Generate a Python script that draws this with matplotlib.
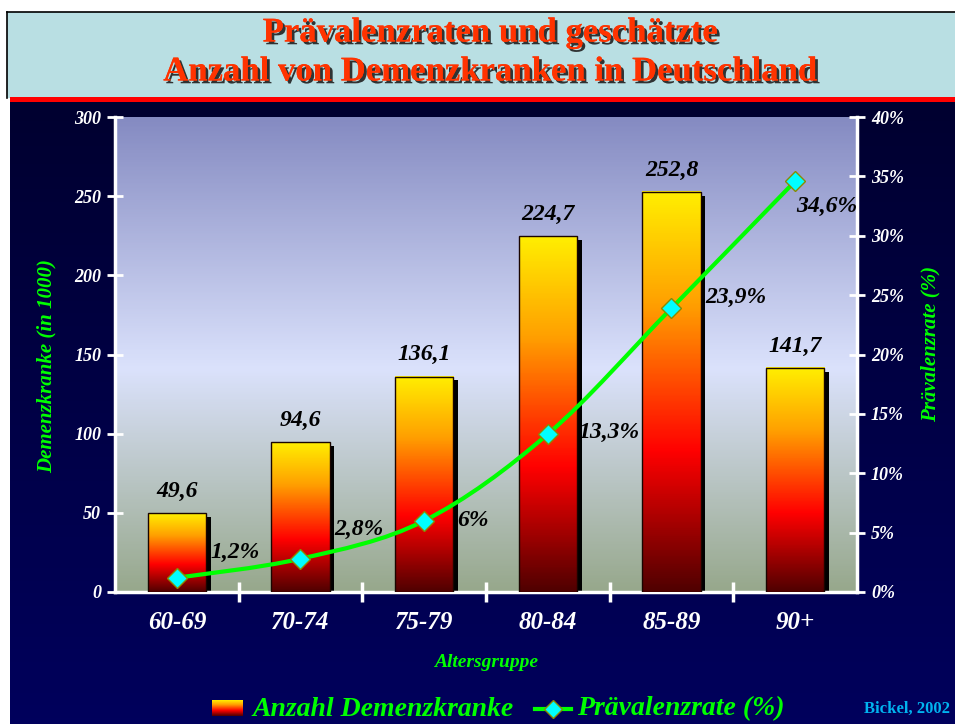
import numpy as np
import matplotlib
matplotlib.use('Agg')
import matplotlib.pyplot as plt
from matplotlib.colors import LinearSegmentedColormap
from matplotlib.path import Path
from matplotlib.patches import PathPatch, Rectangle
import matplotlib.patheffects as pe

# data
age_groups = ['60-69', '70-74', '75-79', '80-84', '85-89', '90+']
patients = [49.6, 94.6, 136.1, 224.7, 252.8, 141.7]      # in 1000
prevalence = [1.2, 2.8, 6.0, 13.3, 23.9, 34.6]          # percent

# offsets (points) of the percent labels relative to their markers
pct_offsets = [(24, 18), (24, 21), (24, 0), (22, 1), (24, 8), (1, -18)]

SERIF = 'Liberation Serif'
GREEN = '#00ff00'

bar_cmap = LinearSegmentedColormap.from_list(
    'bar', [(0, '#500000'), (0.35, '#ff0000'), (0.72, '#ffa000'), (1, '#ffee00')])
bg_cmap = LinearSegmentedColormap.from_list(
    'bg', [(0, '#97a88c'), (0.47, '#dbe2fc'), (1, '#858bc2')])
navy_cmap = LinearSegmentedColormap.from_list('navy', ['#000030', '#00005c'])


def smooth_path(xs, ys):
    # Catmull-Rom style bezier through the points (like a smoothed office line)
    pts = np.column_stack([xs, ys])
    ext = np.vstack([pts[0], pts, pts[-1]])
    verts = [pts[0]]
    codes = [Path.MOVETO]
    for i in range(len(pts) - 1):
        p0, p1, p2, p3 = ext[i], ext[i + 1], ext[i + 2], ext[i + 3]
        verts += [p1 + (p2 - p0) / 6, p2 - (p3 - p1) / 6, p2]
        codes += [Path.CURVE4] * 3
    return Path(verts, codes)


fig = plt.figure(figsize=(9.55, 7.24), dpi=100, facecolor='white')

# page background in pixel coordinates
bg = fig.add_axes([0, 0, 1, 1], zorder=-5)
bg.axis('off')
bg.imshow(np.linspace(0, 1, 100).reshape(-1, 1), cmap=navy_cmap, aspect='auto',
          extent=(10, 955, 724, 102))
bg.add_patch(Rectangle((7, 12), 950, 86, facecolor='#b9dfe3', edgecolor='none'))
bg.plot([7, 955], [12, 12], color='black', lw=1.2)
bg.plot([7, 7], [12, 98], color='black', lw=1.2)
bg.add_patch(Rectangle((10, 97), 945, 5, facecolor='#ff0000', edgecolor='none'))
bg.set_xlim(0, 955)
bg.set_ylim(724, 0)

shadow = [pe.withSimplePatchShadow(offset=(2, -2), shadow_rgbFace='#202020', alpha=0.9), pe.Normal()]
for y, line in [(33, 'Prävalenzraten und geschätzte'), (72, 'Anzahl von Demenzkranken in Deutschland')]:
    bg.text(490, y, line, ha='center', va='center', fontsize=25, fontweight='bold',
            family=SERIF, color='#ff3300', path_effects=shadow)

# main axes
ax = fig.add_axes([115 / 955, 132 / 724, 742 / 955, 475 / 724])
ax2 = ax.twinx()
x = np.arange(len(age_groups))

ax.imshow(np.linspace(0, 1, 200).reshape(-1, 1), cmap=bg_cmap, origin='lower',
          aspect='auto', extent=(-0.5, len(x) - 0.5, 0, 300), zorder=0)

w = 0.47
ax.bar(x + 0.038, np.array(patients) - 2.5, width=w, color='black', zorder=2)
bars = ax.bar(x, patients, width=w, facecolor='none', edgecolor='#1a0500', lw=1, zorder=4)
for b in bars:
    ax.imshow(np.linspace(0, 1, 200).reshape(-1, 1), cmap=bar_cmap, origin='lower',
              aspect='auto', zorder=3,
              extent=(b.get_x(), b.get_x() + b.get_width(), 0, b.get_height()))
ax.bar_label(bars, labels=[f'{v:g}'.replace('.', ',') for v in patients], padding=8,
             fontsize=17, fontweight='bold', fontstyle='italic', family=SERIF, color='black')

ax.set_xlim(-0.5, len(x) - 0.5)
ax.set_ylim(0, 300)
ax2.set_ylim(0, 40)

# prevalence line
ax2.add_patch(PathPatch(smooth_path(x, prevalence), fill=False, edgecolor=GREEN, lw=3, zorder=5))
ax2.plot(x, prevalence, ls='none', marker='D', ms=10, mfc='#00ffff', mec='#8a8a00', mew=1, zorder=6)
for xi, v, off in zip(x, prevalence, pct_offsets):
    ax2.annotate(f'{v:g}'.replace('.', ',') + '%', (xi, v), xytext=off, textcoords='offset points',
                 ha='left', va='center', fontsize=17, fontweight='bold', fontstyle='italic',
                 family=SERIF, color='black', zorder=7)

# axes styling
for a in (ax, ax2):
    for s in a.spines.values():
        s.set_visible(False)
ax.spines['left'].set_visible(True)
ax.spines['bottom'].set_visible(True)
ax2.spines['right'].set_visible(True)
for s in (ax.spines['left'], ax.spines['bottom'], ax2.spines['right']):
    s.set_color('white')
    s.set_linewidth(2.5)

tick_font = dict(family=SERIF, fontweight='bold', fontstyle='italic')
ax.set_yticks(range(0, 301, 50))
ax.set_yticklabels([str(v) for v in range(0, 301, 50)], color='white', fontsize=13, **tick_font)
ax.tick_params(axis='y', direction='inout', length=12, width=2, color='white', pad=4)
ax2.set_yticks(range(0, 41, 5))
ax2.set_yticklabels([f'{v}%' for v in range(0, 41, 5)], color='white', fontsize=13, **tick_font)
ax2.tick_params(axis='y', direction='inout', length=12, width=2, color='white', pad=4)

ax.set_xticks(x)
ax.set_xticklabels(age_groups, color='white', fontsize=18, **tick_font)
ax.set_xticks(x[:-1] + 0.5, minor=True)
ax.tick_params(axis='x', which='major', length=0, pad=14)
ax.tick_params(axis='x', which='minor', direction='inout', length=15, width=2.5, color='white')

ax.set_ylabel('Demenzkranke (in 1000)', color=GREEN, fontsize=15, **tick_font)
ax2.set_ylabel('Prävalenzrate (%)', color=GREEN, fontsize=15, **tick_font)
ax.yaxis.set_label_coords(-0.078, 0.475)
ax2.yaxis.set_label_coords(1.086, 0.522)
ax.set_xlabel('Altersgruppe', color=GREEN, fontsize=14, labelpad=14, **tick_font)

# legend at the bottom
sw = fig.add_axes([212 / 955, 8 / 724, 31 / 955, 16 / 724])
sw.imshow(np.linspace(0, 1, 50).reshape(-1, 1), cmap=bar_cmap, origin='lower', aspect='auto')
sw.axis('off')
leg_font = dict(family=SERIF, fontstyle='italic', fontweight='bold', fontsize=20,
                color=GREEN, va='center')
bg.text(252, 709, 'Anzahl Demenzkranke', **leg_font)
bg.plot([535, 553, 571], [709, 709, 709], color=GREEN, lw=3, marker='D', markevery=[1],
        ms=9, mfc='#00ffff', mec='#8a8a00')
bg.text(577, 709, 'Prävalenzrate (%)', **leg_font)
bg.text(950, 709, 'Bickel, 2002', ha='right', va='center', family=SERIF, fontweight='bold',
        fontsize=12, color='#00b4f0')

fig.savefig('out.png', dpi=100, facecolor='white')
